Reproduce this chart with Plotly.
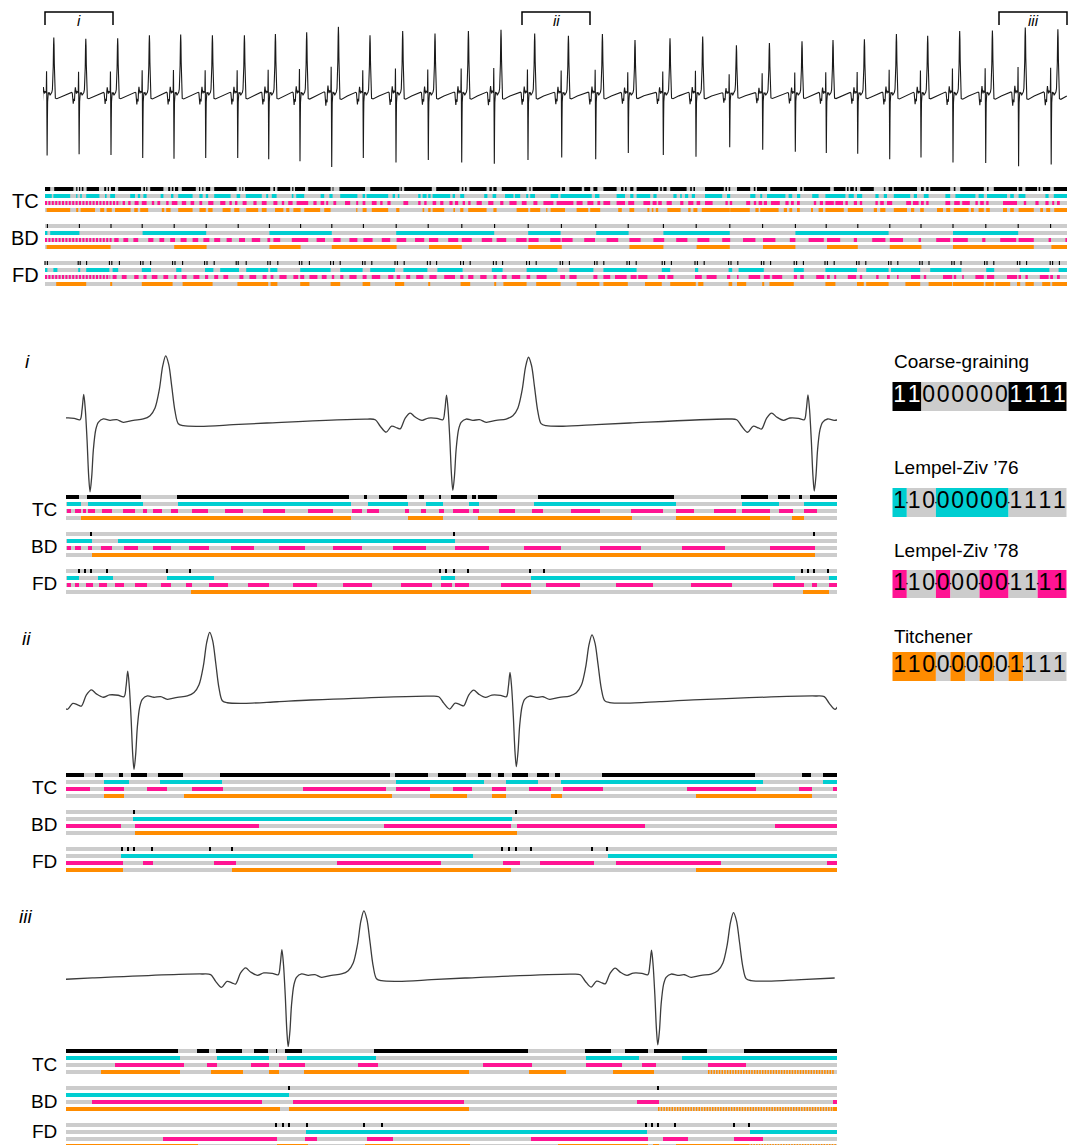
import plotly.graph_objects as go

W, H = 1077, 1145          # reference picture size
OX, OY = 8, 8              # page body margin offset
FW, FH = W - OX, H - OY    # figure size
FONT = "Arial, 'Liberation Sans', sans-serif"

# ---------------- recording / windows ----------------
FS = 453.5            # samples per second in the zoomed windows
WIN_LEN = 1.7         # s, length of each zoom window
REC_LEN = 25.55       # s, whole record
WINDOW_STARTS = [0.0, 11.925, 23.85]
WINDOW_LABELS = ["i", "ii", "iii"]
METHODS = ["TC", "BD", "FD"]

# time (s) of the S trough of every beat, and relative beat amplitude
S_TIMES = [0.053, 0.853, 1.650, 2.443, 3.225, 4.018, 4.818, 5.593, 6.375, 7.168,
           7.958, 8.775, 9.583, 10.418, 11.233, 12.075, 12.918, 13.768, 14.583, 15.458,
           16.275, 17.118, 17.943, 18.758, 19.533, 20.318, 21.118, 21.900, 22.700, 23.518,
           24.340, 25.155]
BEAT_AMP = [0.96, 0.94, 0.95, 1.00, 1.01, 1.00, 1.00, 1.02, 1.05, 1.14,
            1.00, 1.07, 1.03, 1.07, 1.09, 1.03, 0.99, 1.02, 0.92, 0.95,
            0.98, 0.83, 0.87, 0.90, 0.92, 0.93, 1.02, 0.99, 1.07, 1.08,
            1.13, 1.10]
# one beat read from window i (ms relative to the S trough, mV)
BEAT_DT_MS = [-190, -171, -160, -147, -135, -123, -116, -105, -94, -83,
              -68, -54, -35, -22, -17.6, -13.9, -10.4, -6.6, -2.9, 0,
              3.7, 7.3, 12.6, 18.3, 29.3, 44, 58.9, 73.4, 95.5, 117.5,
              132.3, 143.3, 152.8, 160.3, 166.9, 173.5, 180.1, 187.4, 194.7, 205.7,
              242.6, 316, 390]
BEAT_MV = [0.06, 0.046, -0.086, -0.206, -0.086, -0.12, -0.14, 0.08, 0.18, 0.10,
           0.034, 0.08, 0.074, 0.046, 0.246, 0.546, 0.246, -0.354, -1.086, -1.386,
           -1.086, -0.554, -0.154, -0.006, 0.06, 0.034, 0.046, -0.006, 0.034, 0.06,
           0.126, 0.28, 0.646, 1.114, 1.314, 1.146, 0.714, 0.214, -0.034, -0.074,
           -0.086, -0.054, -0.02]

# ---------------- whole-record phrase stripes (seconds) ----------------
TOP_TC_BLACK = [[0.0,0.13],[0.23,0.71],[0.78,0.81],[0.85,0.88],[0.92,0.96],[1.04,1.35],[1.48,1.53],[1.57,1.6],
    [1.65,1.75],[1.83,2.4],[2.46,2.5],[2.53,2.56],[2.63,2.96],[3.08,3.13],[3.17,3.21],[3.25,3.33],[3.42,3.77],
    [3.85,3.88],[3.93,3.96],[4.02,4.13],[4.23,4.79],[4.86,4.89],[4.93,4.96],[5.0,5.63],[5.71,5.75],[5.81,6.13],
    [6.18,6.21],[6.25,6.5],[6.58,7.14],[7.19,7.21],[7.36,8.0],[8.13,8.86],[8.89,8.92],[8.98,9.67],[9.78,10.36],
    [10.42,10.46],[10.5,10.54],[10.61,11.04],[11.11,11.17],[11.21,11.29],[11.42,12.04],[12.11,12.14],[12.19,12.88],
    [12.92,13.0],[13.11,13.42],[13.48,13.63],[13.71,13.81],[13.96,14.29],[14.4,14.46],[14.5,14.54],[14.63,14.71],
    [14.79,15.33],[15.38,15.42],[15.46,15.54],[15.63,16.04],[16.13,16.17],[16.21,16.25],[16.5,16.97],[17.01,17.05],
    [17.09,17.13],[17.3,17.63],[17.72,17.76],[17.8,18.05],[18.13,18.8],[18.88,18.93],[18.97,19.63],[19.72,20.01],
    [20.05,20.09],[20.13,20.22],[20.26,20.3],[20.38,20.72],[20.97,21.01],[21.09,21.18],[21.22,21.8],[21.9,21.97],
    [22.03,22.09],[22.13,22.63],[22.72,22.76],[22.88,23.47],[23.55,23.59],[23.72,24.3],[24.34,24.43],[24.51,24.8],
    [24.84,24.88],[24.95,25.13],[25.22,25.55]]
TOP_TC_CYAN = [[0.0,0.17],[0.21,0.63],[0.78,0.81],[0.88,0.92],[1.03,1.36],[1.5,1.54],[1.63,1.75],[2.13,2.25],
    [2.32,2.38],[2.46,2.54],[2.89,2.96],[3.15,3.21],[3.33,3.69],[3.86,3.94],[4.02,4.08],[4.23,4.64],[4.79,4.88],
    [5.02,5.42],[5.53,5.58],[5.67,5.79],[6.17,6.21],[6.28,6.48],[6.89,6.98],[7.11,7.19],[7.38,7.81],[7.94,8.0],
    [8.04,8.58],[8.69,8.75],[8.82,8.86],[9.33,9.39],[9.44,9.54],[9.58,9.64],[9.69,10.13],[10.19,10.25],[10.38,10.48],
    [10.98,11.06],[11.19,11.28],[11.5,11.71],[11.75,11.88],[12.03,12.08],[12.13,12.25],[12.64,12.83],[12.89,13.67],
    [13.75,13.86],[14.29,14.5],[14.63,14.71],[14.79,15.13],[15.21,15.29],[15.71,15.79],[15.88,15.92],[16.0,16.08],
    [16.17,16.25],[16.5,16.93],[17.05,17.13],[17.63,17.76],[17.88,17.93],[18.05,18.51],[18.59,18.68],[18.8,18.88],
    [19.18,19.34],[19.51,20.01],[20.09,20.22],[20.3,20.43],[20.76,20.84],[20.97,21.05],[21.22,21.63],[21.72,21.8],
    [21.97,22.09],[22.51,22.63],[22.76,23.26],[23.34,23.47],[23.55,24.05],[24.13,24.22],[24.34,24.51],[25.01,25.09],
    [25.22,25.55]]
TOP_TC_MAGENTA_DENSE = [[0.0, 1.88]]
TOP_TC_MAGENTA = [[1.94,2.0],[2.08,2.14],[2.24,2.34],[2.42,2.54],[2.67,2.73],[2.81,2.88],[3.03,3.09],[3.17,3.31],
    [3.42,3.53],[3.64,3.73],[3.86,3.93],[4.08,4.21],[4.38,4.51],[4.61,4.67],[4.75,4.81],[4.94,5.04],[5.21,5.29],
    [5.42,5.54],[5.71,5.81],[5.92,5.98],[6.08,6.19],[6.29,6.58],[6.71,6.79],[6.89,6.98],[7.03,7.08],[7.21,7.28],
    [7.5,7.63],[7.78,7.83],[7.94,8.01],[8.17,8.29],[8.38,8.44],[8.56,8.64],[8.96,9.08],[9.33,9.39],[9.48,9.54],
    [9.69,9.78],[9.88,9.96],[10.11,10.19],[10.25,10.33],[10.44,10.5],[10.58,10.64],[10.79,10.92],[11.08,11.21],
    [11.38,11.46],[11.61,11.79],[11.92,12.04],[12.21,12.31],[12.46,12.71],[12.79,13.21],[13.29,13.44],[13.56,13.71],
    [13.81,13.88],[13.96,14.13],[14.29,14.5],[14.58,14.73],[14.96,15.13],[15.19,15.29],[15.33,15.42],[15.54,15.67],
    [15.88,15.96],[16.08,16.21],[16.29,16.38],[16.5,16.69],[17.01,17.07],[17.12,17.18],[17.53,17.63],[17.72,17.78],
    [17.84,17.93],[17.97,18.05],[18.15,18.37],[18.51,18.59],[18.65,18.72],[18.8,18.87],[19.22,19.28],[19.37,19.45],
    [19.51,19.72],[19.76,19.95],[20.01,20.07],[20.22,20.3],[20.37,20.43],[20.76,20.82],[20.88,20.97],[21.05,21.18],
    [21.53,21.65],[21.7,21.84],[21.9,21.97],[22.03,22.09],[22.51,22.63],[22.73,22.87],[22.93,23.12],[23.26,23.32],
    [23.38,23.47],[23.53,23.59],[23.95,24.3],[24.47,24.53],[24.76,24.84],[25.01,25.09],[25.18,25.23],[25.3,25.37]]
TOP_TC_ORANGE = [[0.04,0.63],[0.78,0.83],[0.89,1.25],[1.38,1.48],[1.54,1.67],[1.75,2.14],[2.23,2.32],[2.38,2.58],
    [2.92,2.98],[3.03,3.14],[3.33,3.69],[3.86,4.02],[4.08,4.19],[4.44,4.64],[4.73,4.86],[5.03,5.33],[5.42,5.54],
    [5.75,5.96],[6.03,6.11],[6.21,6.39],[6.48,6.88],[6.98,7.14],[7.78,7.81],[7.94,8.04],[8.17,8.58],[8.78,8.86],
    [9.44,9.48],[9.58,9.64],[9.69,9.98],[10.21,10.25],[10.38,10.46],[10.58,11.04],[11.21,11.29],[11.79,12.08],
    [12.13,12.38],[12.53,12.56],[12.64,13.0],[13.29,13.58],[13.63,13.88],[14.33,14.42],[14.61,14.73],[15.06,15.11],
    [15.17,15.21],[15.27,15.33],[15.56,15.89],[16.08,16.14],[16.21,16.31],[16.42,17.12],[17.13,17.62],[17.76,17.84],
    [17.88,18.34],[18.47,18.55],[18.61,18.68],[18.8,18.87],[19.15,19.2],[19.34,19.45],[19.51,19.97],[20.07,20.45],
    [20.72,20.8],[20.88,21.01],[21.22,21.55],[21.65,21.73],[21.88,21.97],[22.3,22.45],[22.53,22.63],[22.72,23.09],
    [23.15,23.22],[23.34,23.47],[23.53,23.62],[23.95,24.05],[24.13,24.22],[24.34,24.72],[24.88,24.95],[25.03,25.13],
    [25.23,25.55]]
TOP_BD_BLACK_TICKS = [0.06, 0.86, 1.65, 2.43, 3.23, 4.03, 4.83, 5.61, 6.39, 7.17, 7.96, 8.78, 9.58, 10.42, 11.24,
    12.08, 12.91, 13.77, 14.58, 15.46, 16.28, 17.12, 17.94, 18.76, 19.53, 20.32, 21.12, 21.9, 22.7, 23.52, 24.33, 25.14]
TOP_BD_CYAN = [[0.0,0.06],[0.13,0.86],[2.44,4.03],[5.61,7.17],[8.78,11.23],[12.08,12.89],[13.78,14.59],
    [15.46,17.12],[18.76,21.09],[22.7,24.33]]
TOP_BD_MAGENTA_DENSE = [[0.0, 1.67]]
TOP_BD_MAGENTA = [[1.73,1.84],[1.96,2.08],[2.21,2.33],[2.58,2.71],[2.86,2.98],[3.13,3.25],[3.39,3.54],[3.69,3.83],
    [3.96,4.11],[4.23,4.38],[4.54,4.67],[4.85,5.0],[5.17,5.38],[5.56,5.63],[5.71,5.88],[6.17,6.58],[6.79,7.0],
    [7.21,7.39],[7.61,7.81],[7.96,8.19],[8.42,8.63],[8.79,9.03],[9.25,9.48],[9.6,9.83],[10.08,10.33],[10.42,10.67],
    [10.92,11.18],[11.29,11.53],[11.78,12.04],[12.09,12.34],[12.63,12.89],[12.92,13.19],[13.48,13.75],[14.04,14.33],
    [14.61,14.89],[15.21,15.48],[15.78,16.06],[16.31,16.61],[16.93,17.13],[17.45,17.76],[17.95,18.26],[18.62,18.76],
    [19.09,19.47],[19.55,19.88],[20.22,20.3],[20.68,21.01],[21.12,21.45],[21.84,21.9],[22.28,22.63],[22.7,23.07],
    [23.43,23.51],[23.88,24.28],[24.34,24.72],[25.09,25.15],[25.51,25.55]]
TOP_BD_ORANGE = [[0.04,1.64],[3.23,4.04],[5.61,6.39],[7.17,8.79],[9.6,10.42],[12.08,12.92],[14.61,15.46],
    [16.29,17.12],[17.95,18.76],[19.55,20.32],[21.12,21.91],[22.7,24.72],[25.16,25.55]]
TOP_FD_BLACK_TICKS = [0.0, 0.06, 0.83, 0.88, 1.04, 1.61, 1.67, 1.86, 2.39, 2.45, 2.64, 3.19, 3.25, 3.44, 3.99, 4.05,
    4.23, 4.78, 4.83, 5.03, 5.57, 5.63, 5.82, 6.36, 6.42, 6.61, 7.14, 7.21, 7.38, 7.94, 8.0, 8.17, 8.75, 8.81, 8.98,
    9.56, 9.63, 9.79, 10.39, 10.46, 10.63, 11.21, 11.28, 11.44, 12.04, 12.11, 12.28, 12.88, 12.94, 13.11, 13.74, 13.8,
    13.97, 14.55, 14.61, 14.78, 15.43, 15.49, 15.66, 16.25, 16.31, 16.48, 17.09, 17.15, 17.32, 17.91, 17.97, 18.14,
    18.73, 18.79, 18.96, 19.5, 19.56, 19.73, 20.29, 20.35, 20.52, 21.09, 21.15, 21.32, 21.87, 21.93, 22.1, 22.67,
    22.73, 22.9, 23.49, 23.55, 23.72, 24.31, 24.37, 24.54, 25.13, 25.19, 25.36]
TOP_FD_CYAN = [[0.0,0.06],[0.21,0.31],[0.83,0.88],[1.03,1.61],[1.69,1.83],[2.42,2.65],[3.28,3.41],[4.0,4.21],
    [4.38,4.85],[5.03,5.58],[5.63,5.81],[6.38,7.14],[7.38,7.94],[8.13,8.75],[8.96,9.56],[9.81,10.44],[11.17,11.44],
    [12.04,12.81],[13.11,13.71],[13.96,14.79],[15.42,15.63],[16.25,16.33],[17.09,17.18],[17.34,17.97],[18.72,18.97],
    [19.51,20.3],[20.53,21.09],[21.15,21.88],[22.13,22.91],[23.53,23.73],[24.37,25.11],[25.34,25.55]]
TOP_FD_MAGENTA_DENSE = [[0.0, 1.63]]
TOP_FD_MAGENTA = [[1.69,1.79],[1.92,2.04],[2.23,2.34],[2.46,2.54],[2.67,2.81],[2.96,3.08],[3.23,3.29],[3.42,3.54],
    [3.71,3.86],[4.0,4.08],[4.23,4.33],[4.46,4.58],[4.86,4.96],[5.11,5.28],[5.44,5.54],[5.64,5.71],[5.86,6.04],
    [6.21,6.33],[6.38,6.48],[6.61,6.81],[6.92,7.04],[7.17,7.23],[7.38,7.46],[7.61,7.79],[7.94,8.04],[8.17,8.38],
    [8.58,8.71],[8.79,8.88],[9.03,9.13],[9.28,9.46],[9.61,9.79],[9.98,10.25],[10.38,10.46],[10.58,10.71],
    [10.88,11.04],[11.21,11.29],[11.42,11.54],[11.67,11.88],[12.04,12.13],[12.29,12.54],[12.88,13.0],[13.11,13.29],
    [13.71,13.81],[13.96,14.13],[14.25,14.54],[14.64,14.79],[14.83,15.06],[15.33,15.5],[15.56,15.71],[16.25,16.42],
    [16.54,16.79],[17.05,17.13],[17.3,17.34],[17.59,17.88],[17.97,18.12],[18.18,18.43],[18.72,18.8],[18.88,18.97],
    [19.28,19.48],[19.55,19.62],[19.73,19.78],[20.07,20.28],[20.37,20.43],[20.78,20.84],[21.05,21.12],[21.3,21.34],
    [21.65,21.88],[21.97,22.03],[22.45,22.68],[22.72,22.78],[22.93,22.97],[23.26,23.47],[23.55,23.73],[24.05,24.3],
    [24.34,24.4],[24.51,24.57],[24.87,25.09],[25.13,25.2],[25.3,25.37]]
TOP_FD_ORANGE = [[0.28,1.03],[1.63,1.68],[2.42,3.19],[3.44,4.19],[4.81,5.58],[5.64,5.81],[6.38,6.61],[7.14,7.38],
    [7.94,8.13],[8.75,8.98],[9.58,9.63],[10.39,10.63],[11.23,11.28],[11.46,12.04],[12.28,12.89],[13.29,13.86],
    [13.96,14.57],[15.0,15.42],[15.63,16.27],[16.33,16.46],[17.09,17.18],[17.3,17.53],[17.93,17.98],[18.11,18.72],
    [19.51,19.76],[20.3,20.47],[20.53,21.09],[21.51,21.88],[22.09,22.68],[22.7,23.47],[23.51,23.72],[23.76,24.13],
    [24.3,24.38],[24.51,24.72],[24.93,25.13],[25.18,25.55]]

# ---------------- window phrase stripes (sample index inside window) ----------------
P1_TC_BLACK = [[0,13],[21,75],[111,283],[298,301],[313,341],[353,358],[373,375],[385,401],[406,410],[412,431],
    [472,608],[675,702],[712,724],[733,736],[744,771]]
P1_TC_CYAN = [[1,15],[22,77],[112,285],[302,342],[360,377],[403,413],[468,610],[676,713],[738,771]]
P1_TC_MAGENTA = [[1,5],[9,15],[17,20],[22,29],[36,46],[57,69],[77,81],[87,96],[105,112],[126,142],[159,177],
    [197,219],[242,267],[286,296],[301,313],[339,343],[355,360],[373,378],[387,403],[407,413],[433,449],[466,477],
    [505,534],[565,597],[610,628],[648,670],[676,704],[713,727],[738,751]]
P1_TC_ORANGE = [[15,285],[342,377],[412,566],[610,704],[726,738]]
P1_BD_BLACK_TICKS = [25, 388, 748]
P1_BD_CYAN = [[1,26],[52,389]]
P1_BD_MAGENTA = [[1,5],[9,15],[22,26],[35,46],[58,72],[87,105],[123,143],[165,188],[213,239],[267,296],[327,360],
    [389,423],[458,495],[534,575],[616,659],[704,749]]
P1_BD_ORANGE = [[26,749]]
P1_FD_BLACK_TICKS = [13, 19, 25, 41, 101, 124, 374, 380, 388, 402, 464, 478, 736, 742, 748, 762]
P1_FD_CYAN = [[1,13],[32,47],[101,148],[375,389],[465,729],[763,771]]
P1_FD_MAGENTA = [[1,5],[9,13],[20,27],[33,41],[49,58],[69,81],[95,105],[120,126],[143,162],[182,203],[227,251],
    [277,306],[335,366],[375,386],[389,403],[435,465],[480,514],[550,587],[625,666],[707,738],[746,751],[763,771]]
P1_FD_ORANGE = [[125,465],[737,763]]

P2_TC_BLACK = [[0,18],[29,37],[53,57],[65,81],[92,117],[154,324],[329,362],[372,400],[412,425],[432,438],
    [446,462],[471,483],[489,494],[536,689],[736,745],[757,771]]
P2_TC_CYAN = [[38,63],[94,156],[330,418],[440,472],[495,697],[757,771]]
P2_TC_MAGENTA = [[0,24],[38,58],[81,101],[126,157],[237,320],[330,364],[387,406],[426,440],[463,485],[497,537],
    [621,690],[733,746],[767,771]]
P2_TC_ORANGE = [[38,58],[118,326],[364,401],[426,440],[485,496],[630,746]]
P2_BD_BLACK_TICKS = [68, 450]
P2_BD_CYAN = [[67,446]]
P2_BD_MAGENTA = [[0,55],[69,193],[318,445],[451,579],[709,771]]
P2_BD_ORANGE = [[69,451]]
P2_FD_BLACK_TICKS = [56, 62, 68, 86, 144, 166, 436, 443, 450, 465, 526, 541]
P2_FD_CYAN = [[55,407],[542,771]]
P2_FD_MAGENTA = [[0,57],[77,87],[148,170],[271,375],[437,454],[474,528],[550,655],[761,771]]
P2_FD_ORANGE = [[0,57],[166,445],[630,771]]

P3_TC_BLACK = [[0,112],[131,143],[150,176],[188,202],[210,211],[219,236],[308,462],[519,545],[559,582],
    [588,641],[678,771]]
P3_TC_CYAN = [[0,114],[151,203],[221,310],[520,573],[616,771]]
P3_TC_MAGENTA = [[49,118],[141,151],[185,203],[213,239],[292,312],[417,466],[520,556],[576,590],[642,680]]
P3_TC_ORANGE = [[35,114],[145,177],[203,213],[238,403],[463,500],[547,588]]
P3_TC_ORANGE_HATCH = [[642,768]]
P3_BD_BLACK_TICKS = [223, 592]
P3_BD_CYAN = [[0,223]]
P3_BD_MAGENTA = [[26,196],[227,398],[571,593],[767,771]]
P3_BD_ORANGE = [[0,214],[223,403],[767,771]]
P3_BD_ORANGE_HATCH = [[592,767]]
P3_FD_BLACK_TICKS = [210, 217, 223, 241, 298, 316, 580, 586, 592, 609, 668, 683]
P3_FD_CYAN = [[240,581],[684,771]]
P3_FD_MAGENTA = [[97,211],[239,251],[301,327],[465,582],[597,622],[668,697]]
P3_FD_ORANGE = [[0,132],[211,242],[299,404],[492,582],[587,593],[610,682]]
P3_FD_ORANGE_HATCH = [[682,771]]

# ---------------- legend examples ----------------
CG_PHRASES = ["11", "000000", "1111"]
LZ76_PHRASES = ["1", "10", "00000", "1111"]
LZ78_PHRASES = ["1", "10", "0", "00", "00", "11", "11"]
TITCH_PHRASES = ["110", "0", "0", "0", "0", "0", "1", "111"]
LEGEND_TITLES = ["Coarse-graining", "Lempel-Ziv \u201976", "Lempel-Ziv \u201978", "Titchener"]

# ---------------- styles ----------------
GRAY = "#cccccc"
BLACK = "#000000"
CYAN = "#00ced1"
MAGENTA = "#ff1493"
ORANGE = "#ff8c00"
ROW_COLORS = [BLACK, CYAN, MAGENTA, ORANGE]

fig = go.Figure()


def xd(l, r):
    return [(l - OX) / FW, (r - OX) / FW]


def yd(t, b):
    return [max(0.0, 1 - (b - OY) / FH), min(1.0, 1 - (t - OY) / FH)]


def segs_trace(segs, xa, ya, y, color, width=4, dash=None):
    xs, ys = [], []
    for a, b in segs:
        xs += [a, b, None]
        ys += [y, y, None]
    fig.add_trace(go.Scatter(x=xs, y=ys, mode="lines", xaxis=xa, yaxis=ya,
                             line=dict(color=color, width=width, dash=dash),
                             hoverinfo="skip", showlegend=False))


# ---------------- ECG ----------------
ecg_t, ecg_v = [], []
for s, a in zip(S_TIMES, BEAT_AMP):
    for dt, v in zip(BEAT_DT_MS, BEAT_MV):
        ecg_t.append(s + dt / 1000.0)
        ecg_v.append(a * v)

fig.add_trace(go.Scatter(x=ecg_t, y=ecg_v, mode="lines", xaxis="x", yaxis="y",
                         line=dict(color="#1a1a1a", width=1.1), hoverinfo="skip", showlegend=False))

# window brackets
for t0, lab in zip(WINDOW_STARTS, WINDOW_LABELS):
    fig.add_trace(go.Scatter(x=[t0, t0, t0 + WIN_LEN, t0 + WIN_LEN], y=[0, 1, 1, 0], mode="lines",
                             xaxis="x", yaxis="y2", line=dict(color="black", width=1.5),
                             hoverinfo="skip", showlegend=False))

# ---------------- stripes ----------------
TOP_ROWS = {
    "TC": [TOP_TC_BLACK, TOP_TC_CYAN, TOP_TC_MAGENTA, TOP_TC_ORANGE],
    "BD": [None, TOP_BD_CYAN, TOP_BD_MAGENTA, TOP_BD_ORANGE],
    "FD": [None, TOP_FD_CYAN, TOP_FD_MAGENTA, TOP_FD_ORANGE],
}
TOP_TICKS = {"BD": TOP_BD_BLACK_TICKS, "FD": TOP_FD_BLACK_TICKS}
TOP_DENSE = {"TC": TOP_TC_MAGENTA_DENSE, "BD": TOP_BD_MAGENTA_DENSE, "FD": TOP_FD_MAGENTA_DENSE}

PANEL_ROWS = [
    {"TC": [P1_TC_BLACK, P1_TC_CYAN, P1_TC_MAGENTA, P1_TC_ORANGE],
     "BD": [None, P1_BD_CYAN, P1_BD_MAGENTA, P1_BD_ORANGE],
     "FD": [None, P1_FD_CYAN, P1_FD_MAGENTA, P1_FD_ORANGE]},
    {"TC": [P2_TC_BLACK, P2_TC_CYAN, P2_TC_MAGENTA, P2_TC_ORANGE],
     "BD": [None, P2_BD_CYAN, P2_BD_MAGENTA, P2_BD_ORANGE],
     "FD": [None, P2_FD_CYAN, P2_FD_MAGENTA, P2_FD_ORANGE]},
    {"TC": [P3_TC_BLACK, P3_TC_CYAN, P3_TC_MAGENTA, P3_TC_ORANGE],
     "BD": [None, P3_BD_CYAN, P3_BD_MAGENTA, P3_BD_ORANGE],
     "FD": [None, P3_FD_CYAN, P3_FD_MAGENTA, P3_FD_ORANGE]},
]
PANEL_TICKS = [
    {"BD": P1_BD_BLACK_TICKS, "FD": P1_FD_BLACK_TICKS},
    {"BD": P2_BD_BLACK_TICKS, "FD": P2_FD_BLACK_TICKS},
    {"BD": P3_BD_BLACK_TICKS, "FD": P3_FD_BLACK_TICKS},
]
PANEL_HATCH = [{}, {}, {"TC": P3_TC_ORANGE_HATCH, "BD": P3_BD_ORANGE_HATCH, "FD": P3_FD_ORANGE_HATCH}]

METHOD_GAP = 37
ROW_GAP = 7


def draw_group(rows, ticks, xa, ya, full, tick_hw, dense=None, hatch=None):
    for m, meth in enumerate(METHODS):
        for r in range(4):
            y = m * METHOD_GAP + r * ROW_GAP
            segs_trace([full], xa, ya, y, GRAY)
            data = rows[meth][r]
            if data is None:
                data = [[c - tick_hw, c + tick_hw] for c in ticks[meth]]
            segs_trace(data, xa, ya, y, ROW_COLORS[r])
            if dense and r == 2 and meth in dense:
                segs_trace(dense[meth], xa, ya, y, MAGENTA, dash="2px,1.4px")
            if hatch and r == 3 and meth in hatch:
                segs_trace(hatch[meth], xa, ya, y, ORANGE, dash="1.5px,1.2px")


draw_group(TOP_ROWS, TOP_TICKS, "x", "y3", [0, REC_LEN], 0.014, dense=TOP_DENSE)

n_win = int(round(WIN_LEN * FS))
for p, t0 in enumerate(WINDOW_STARTS):
    xa = "x%d" % (p + 2)
    ya_ecg = "y%d" % (2 * p + 4)
    ya_str = "y%d" % (2 * p + 5)
    px = [(t - t0) * FS for t in ecg_t]
    fig.add_trace(go.Scatter(x=px, y=ecg_v, mode="lines", xaxis=xa, yaxis=ya_ecg,
                             line=dict(color="#3c3c3c", width=1.3, shape="spline", smoothing=0.9),
                             hoverinfo="skip", showlegend=False))
    draw_group(PANEL_ROWS[p], PANEL_TICKS[p], xa, ya_str, [0, n_win], 1.0, hatch=PANEL_HATCH[p])

# ---------------- legend examples ----------------
def legend_row(phrases, fills, txt_colors, ya, dots):
    pos = 0
    cx, ct, cc = [], [], []
    bounds = []
    for ph, fc, tc in zip(phrases, fills, txt_colors):
        L = len(ph)
        fig.add_trace(go.Bar(x=[pos + L / 2], y=[1], base=[0], width=[L], xaxis="x5", yaxis=ya,
                             marker=dict(color=fc, line=dict(width=0)), hoverinfo="skip", showlegend=False))
        for k, ch in enumerate(ph):
            cx.append(pos + k + 0.5)
            ct.append(ch)
            cc.append(tc)
        pos += L
        bounds.append(pos)
    fig.add_trace(go.Scatter(x=cx, y=[0.5] * len(cx), text=ct, mode="text", xaxis="x5", yaxis=ya,
                             textfont=dict(family=FONT, size=23, color=cc), textposition="middle center",
                             hoverinfo="skip", showlegend=False))
    if dots:
        b = bounds[:-1]
        fig.add_trace(go.Scatter(x=b, y=[0.5] * len(b), text=["\u00b7"] * len(b), mode="text",
                                 xaxis="x5", yaxis=ya, textfont=dict(family=FONT, size=13, color="black"),
                                 textposition="middle center", hoverinfo="skip", showlegend=False))


def alt(n, c):
    return [c if i % 2 == 0 else GRAY for i in range(n)]


legend_row(CG_PHRASES, [BLACK, GRAY, BLACK], ["white", "black", "white"], "y10", False)
legend_row(LZ76_PHRASES, alt(len(LZ76_PHRASES), CYAN), ["black"] * len(LZ76_PHRASES), "y11", True)
legend_row(LZ78_PHRASES, alt(len(LZ78_PHRASES), MAGENTA), ["black"] * len(LZ78_PHRASES), "y12", True)
legend_row(TITCH_PHRASES, alt(len(TITCH_PHRASES), ORANGE), ["black"] * len(TITCH_PHRASES), "y13", True)

# ---------------- layout ----------------
hid = dict(visible=False, fixedrange=True)
lay = dict(width=FW, height=FH, margin=dict(l=0, r=0, t=0, b=0), paper_bgcolor="white",
           plot_bgcolor="white", showlegend=False, barmode="overlay")
lay["xaxis"] = dict(domain=xd(43, 1069), range=[-0.05, 25.6], **hid)
lay["yaxis"] = dict(domain=yd(20, 175), range=[-1.758, 1.648], anchor="x", **hid)
lay["yaxis2"] = dict(domain=yd(10.7, 26.3), range=[-0.1, 1.1], anchor="x", **hid)
lay["yaxis3"] = dict(domain=yd(185, 289), range=[100, -4], anchor="x", **hid)

PANEL_ECG_DOM = [(345, 496), (625, 772), (905, 1049)]
PANEL_ECG_RNG = [(-1.412, 1.469), (-1.481, 1.501), (-1.617, 1.617)]
PANEL_STR_DOM = [(493, 597, 100), (771, 875, 100), (1047, 1145, 94)]
for p in range(3):
    lay["xaxis%d" % (p + 2)] = dict(domain=xd(66, 837), range=[0, n_win], anchor="y%d" % (2 * p + 4), **hid)
    t, b = PANEL_ECG_DOM[p]
    lay["yaxis%d" % (2 * p + 4)] = dict(domain=yd(t, b), range=list(PANEL_ECG_RNG[p]),
                                        anchor="x%d" % (p + 2), **hid)
    t, b, r = PANEL_STR_DOM[p]
    lay["yaxis%d" % (2 * p + 5)] = dict(domain=yd(t, b), range=[r, -4], anchor="x%d" % (p + 2), **hid)

lay["xaxis5"] = dict(domain=xd(892.3, 1066.7), range=[0, 12], anchor="y10", **hid)
for k, (t, b) in enumerate([(382, 411), (488, 517), (570, 598), (652, 681)]):
    lay["yaxis%d" % (10 + k)] = dict(domain=yd(t, b), range=[0, 1], anchor="x5", **hid)

ann = []


def label(text, x, y, size, xanchor="center", xref="paper"):
    ann.append(dict(text=text, x=x if xref != "paper" else (x - OX) / FW, y=1 - (y - OY) / FH,
                    xref=xref, yref="paper", showarrow=False, xanchor=xanchor, yanchor="middle",
                    font=dict(family=FONT, size=size, color="black")))


for t0, lab in zip(WINDOW_STARTS, WINDOW_LABELS):
    label("<i>%s</i>" % lab, t0 + WIN_LEN / 2, 20, 15, xref="x")

for m, meth in enumerate(METHODS):
    label(meth, 41, 201 + m * 37, 20, xanchor="right")

PANEL_LABEL_POS = [(361, 497), (638, 775), (916, 1052)]
PANEL_LABEL_X = [27, 26, 25]
for p, lab in enumerate(WINDOW_LABELS):
    ly, y0 = PANEL_LABEL_POS[p]
    label("<i>%s</i>" % lab, PANEL_LABEL_X[p], ly, 19)
    for m, meth in enumerate(METHODS):
        yy = y0 + 12 + m * 37
        if p == 2 and m == 2:
            yy = 1131
        label(meth, 59, yy, 19, xanchor="right")

for k, (title, cy) in enumerate(zip(LEGEND_TITLES, [362, 468, 550, 636])):
    label(title, 892, cy, 19, xanchor="left")

lay["annotations"] = ann
fig.update_layout(**lay)
fig.write_html("out.html")
